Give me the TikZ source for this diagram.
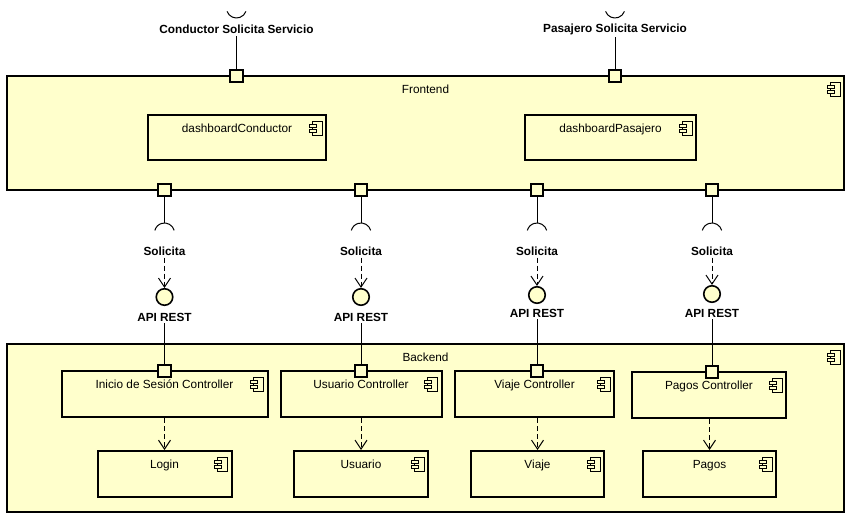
\documentclass[tikz,border=0pt]{standalone}
\usepackage{fontspec}
\setmainfont{Liberation Sans}
\usetikzlibrary{arrows.meta,positioning,calc}

\definecolor{compfill}{RGB}{255,255,204}

\begin{document}
\begin{tikzpicture}[x=1pt, y=-1pt, font=\fontsize{11.8}{13}\selectfont,
  comp/.style={draw, fill=compfill, line width=2pt, inner sep=0pt,
    label={[anchor=base, yshift=-18.5pt]north:#1},
    path picture={
      \draw[line width=1pt] ([xshift=-14pt,yshift=-6pt]path picture bounding box.north east) rectangle ++(10pt,-14pt);
      \draw[line width=1pt, fill=compfill] ([xshift=-17pt,yshift=-9pt]path picture bounding box.north east) rectangle ++(7pt,-3pt);
      \draw[line width=1pt, fill=compfill] ([xshift=-17pt,yshift=-14pt]path picture bounding box.north east) rectangle ++(7pt,-3pt);
    }},
  port/.style={draw, fill=compfill, line width=1.6pt, minimum size=12.5pt, inner sep=0pt},
  iface/.style={circle, draw, fill=compfill, line width=1.6pt, minimum size=16.5pt, inner sep=0pt},
  blbl/.style={font=\fontsize{11.8}{13}\selectfont\bfseries, inner sep=2pt},
  conn/.style={line width=1pt},
  dep/.style={line width=1pt, dash pattern=on 5pt off 3pt, -{Straight Barb[length=9pt,width=12pt]}},
]
  \useasboundingbox (0,0) rectangle (855,522);

  % Main components
  \node[comp=Frontend, minimum width=837pt, minimum height=114pt] (front) at (425.5,133) {};
  \node[comp=Backend, minimum width=837pt, minimum height=168pt] (back) at (425.5,428) {};

  % Frontend parts
  \node[comp=dashboardConductor, minimum width=178pt, minimum height=45pt] (dashC) at (237,137.5) {};
  \node[comp=dashboardPasajero, minimum width=171pt, minimum height=45pt] (dashP) at (610.5,137.5) {};

  % Backend parts
  \node[comp=Inicio de Sesión Controller, minimum width=206pt, minimum height=46pt] (ctrl1) at (164.5,394) {};
  \node[comp=Usuario Controller, minimum width=161pt, minimum height=46pt] (ctrl2) at (361,394) {};
  \node[comp=Viaje Controller, minimum width=159pt, minimum height=46pt] (ctrl3) at (534.5,394) {};
  \node[comp=Pagos Controller, minimum width=154pt, minimum height=46pt] (ctrl4) at (709,395) {};
  \node[comp=Login, minimum width=134pt, minimum height=46pt] (sub1) at (164.5,474) {};
  \node[comp=Usuario, minimum width=134pt, minimum height=46pt] (sub2) at (361,474) {};
  \node[comp=Viaje, minimum width=133pt, minimum height=46pt] (sub3) at (537.5,474) {};
  \node[comp=Pagos, minimum width=133pt, minimum height=46pt] (sub4) at (709.5,474) {};

  % Provided services on top
  \foreach \i/\x/\txt in {1/236.5/Conductor Solicita Servicio, 2/615/Pasajero Solicita Servicio} {
    \node[port] (tp\i) at (\x,76) {};
    \node[blbl] (tl\i) at (\x,29) {\txt};
    \coordinate (ts\i) at (\x,18);
    \draw[conn] (ts\i) ++(-9.4pt,6.58pt) arc[start angle=200, end angle=340, radius=10pt];
    \draw[conn] (tp\i) -- (tl\i);
  }

  % Columns: x, circle y, label y, port y
  \foreach \i/\x/\cy/\ay/\by in {1/164.5/297/317/371, 2/361/297/317/371, 3/537/295/313/371, 4/712/294/313/372} {
    \node[port] (fp\i) at (\x,190) {};
    \coordinate (sk\i) at (\x,223);
    \draw[conn] (sk\i) ++(9.66pt,-7.41pt) arc[start angle=15, end angle=165, radius=10pt];
    \node[blbl] (sol\i) at (\x,251) {Solicita};
    \node[iface] (ifc\i) at (\x,\cy) {};
    \node[blbl] (api\i) at (\x,\ay) {API REST};
    \node[port] (bp\i) at (\x,\by) {};
    \draw[conn] (fp\i) -- (sk\i);
    \draw[dep] (sol\i) -- (ifc\i);
    \draw[conn] (api\i) -- (bp\i);
    \draw[dep] (sub\i |- ctrl\i.south) -- (sub\i);
  }
\end{tikzpicture}
\end{document}
